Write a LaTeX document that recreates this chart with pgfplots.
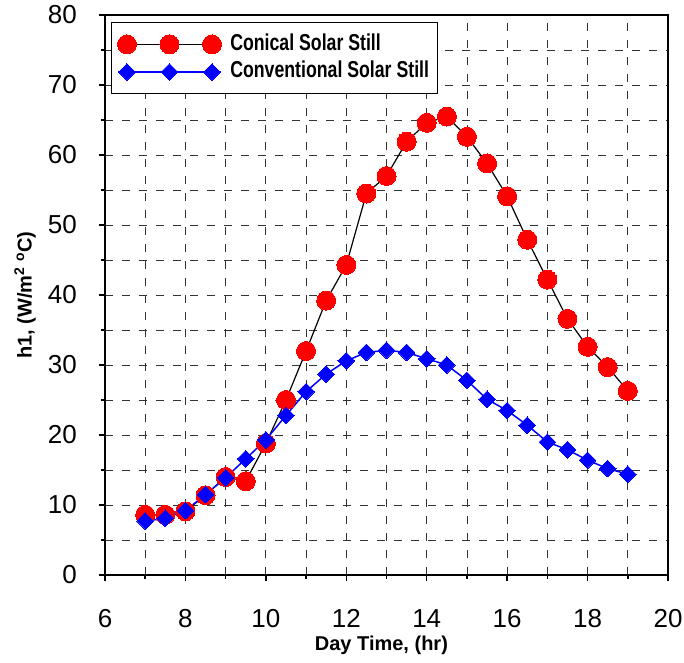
\documentclass[border=0pt]{standalone}
\usepackage{fontspec}
\setmainfont{Liberation Sans}
\newfontfamily\legfont[FakeStretch=0.77]{Liberation Sans}
\usepackage{pgfplots}
\pgfplotsset{compat=1.18}
\begin{document}
\begin{tikzpicture}[x=1pt,y=1pt]
\begin{axis}[
  scale only axis, width=563pt, height=560pt,
  xmin=6, xmax=20, ymin=0, ymax=80,
  xtick={6,8,...,20}, minor xtick={7,9,...,19},
  ytick={0,10,...,80}, minor ytick={5,15,...,75},
  tick pos=left, tick align=outside,
  major tick length=6pt, minor tick length=3.5pt,
  every tick/.style={black, line width=1.5pt},
  grid=both,
  major grid style={black!80, line width=0.8pt, dash pattern=on 8pt off 9pt},
  minor grid style={black!80, line width=0.8pt, dash pattern=on 8pt off 9pt},
  axis line style={line width=1.6pt},
  /pgf/number format/assume math mode=true,
  tick label style={font=\fontsize{26}{30}\selectfont},
  xticklabel style={anchor=north, inner sep=0pt, yshift=-28pt},
  yticklabel style={anchor=east, inner sep=0pt, xshift=-22pt},
  xlabel={Day Time, (hr)},
  ylabel={h1, (W/m\textsuperscript{2} \textsuperscript{o}C)},
  every axis x label/.style={at={(axis description cs:0.491,-0.125)}, anchor=center, font=\fontsize{20}{24}\selectfont\bfseries},
  every axis y label/.style={at={(axis description cs:-0.142,0.5)}, anchor=center, rotate=90, font=\fontsize{20}{24}\selectfont\bfseries},
  legend cell align=left,
  legend image code/.code={\draw[#1] plot coordinates {(2pt,0pt) (44.5pt,0pt) (87pt,0pt)}; \path (102.5pt,0pt);},
  legend style={at={(0,1)}, anchor=north west, xshift=6pt, yshift=-7pt,
    draw=black, line width=1pt, fill=white,
    font=\legfont\bfseries\fontsize{23}{27}\selectfont,
    inner xsep=6pt, inner ysep=9pt, row sep=2pt,
    nodes={text depth=5pt}},
]
\addplot[black, line width=1.2pt, mark=*, mark size=9.5pt, mark options={fill=red, draw=red, line width=0pt}]
coordinates {(7,8.6)(7.5,8.6)(8,9.1)(8.5,11.4)(9,14.0)(9.5,13.4)(10,18.8)(10.5,25.0)(11,32.0)(11.5,39.2)(12,44.3)(12.5,54.5)(13,57.0)(13.5,61.9)(14,64.6)(14.5,65.5)(15,62.6)(15.5,58.8)(16,54.1)(16.5,47.9)(17,42.2)(17.5,36.6)(18,32.6)(18.5,29.7)(19,26.3)};
\addlegendentry{Conical Solar Still}
\addplot[blue, line width=1.5pt, mark=square*, mark size=5.9pt, mark options={fill=blue, draw=blue, line width=0pt, rotate=45}]
coordinates {(7,7.7)(7.5,8.1)(8,9.2)(8.5,11.5)(9,13.9)(9.5,16.6)(10,19.3)(10.5,22.8)(11,26.2)(11.5,28.7)(12,30.6)(12.5,31.8)(13,32.1)(13.5,31.8)(14,30.9)(14.5,30.0)(15,27.8)(15.5,25.1)(16,23.5)(16.5,21.4)(17,19.0)(17.5,17.9)(18,16.4)(18.5,15.2)(19,14.4)};
\addlegendentry{Conventional Solar Still}
\end{axis}
\pgfresetboundingbox
\path[use as bounding box] (-105pt,-87pt) rectangle (579pt,575pt);
\end{tikzpicture}
\end{document}
